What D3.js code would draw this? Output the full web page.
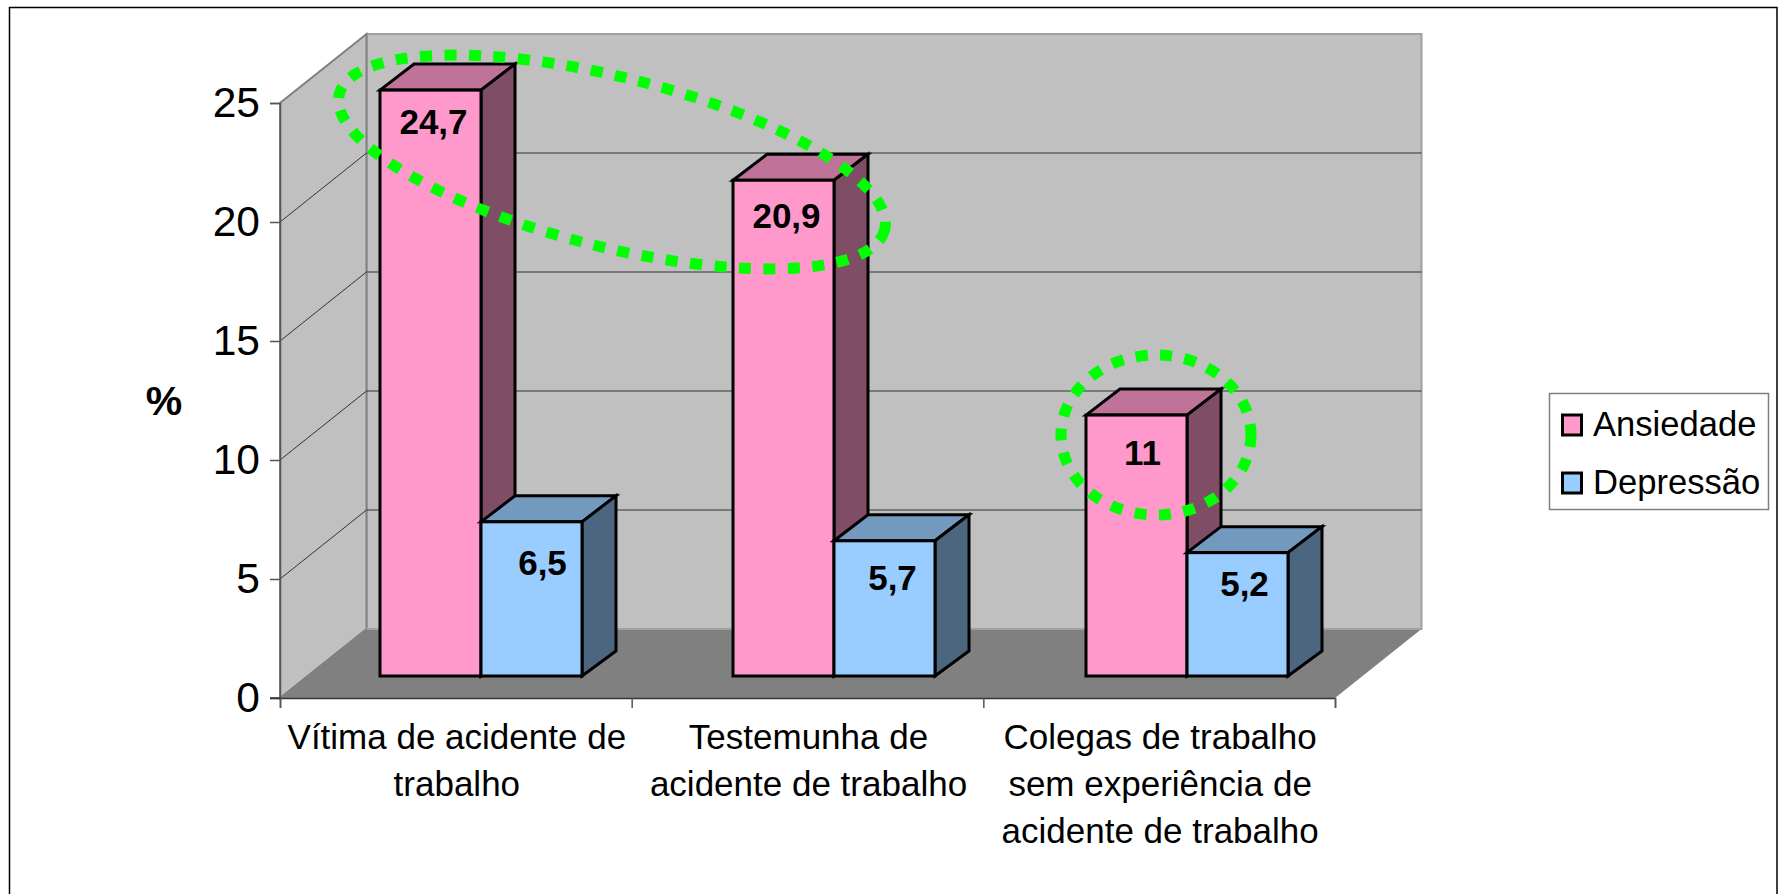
<!DOCTYPE html>
<html>
<head>
<meta charset="utf-8">
<script src="https://cdn.jsdelivr.net/npm/d3@7"></script>
<style>
  html, body { margin: 0; padding: 0; background: #fff; }
  svg { display: block; font-family: "Liberation Sans", Arial, sans-serif; }
</style>
</head>
<body>
<svg id="chart" width="1779" height="894"></svg>
<script>
const categories = [
  ["Vítima de acidente de", "trabalho"],
  ["Testemunha de", "acidente de trabalho"],
  ["Colegas de trabalho", "sem experiência de", "acidente de trabalho"]
];
const seriesNames = ["Ansiedade", "Depressão"];
const ansiedade = [24.7, 20.9, 11];
const depressao = [6.5, 5.7, 5.2];
const valueLabels = [["24,7", "20,9", "11"], ["6,5", "5,7", "5,2"]];
const yTicks = [0, 5, 10, 15, 20, 25];

const front = ["#FF99CC", "#99CCFF"];
const topCol = ["#BF7399", "#7399BF"];
const sideCol = ["#804D66", "#4D6680"];

const svg = d3.select("#chart");

// page frame
svg.append("path").attr("d", "M9.5,894V7.5H1777V894")
  .attr("fill", "none").attr("stroke", "#000").attr("stroke-width", 1.5);

const catIdx = d3.range(categories.length);
const x = d3.scaleBand().domain(catIdx).range([280, 1335]);
const y = d3.scaleLinear().domain([0, 25]).range([698, 103]);
// bars stand a bit behind the front edge of the floor
const yBar = d3.scaleLinear().domain([0, 25]).range([676, 83]);
const xGroup = d3.scalePoint().domain(catIdx).range([380, 1086]);
const xBar = d3.scaleBand().domain([0, 1]).range([0, 202]);
const shiftX = 86.5, shiftY = 69;

const x0 = x.range()[0], x1 = x.range()[1];

// walls and floor
const wallLine = d3.line();
svg.append("path")
  .attr("d", wallLine([[x0 + shiftX, y(25) - shiftY], [x1 + shiftX, y(25) - shiftY], [x1 + shiftX, y(0) - shiftY], [x0 + shiftX, y(0) - shiftY]]) + "Z")
  .attr("fill", "#C0C0C0").attr("stroke", "#A0A0A0").attr("stroke-width", 2);
svg.append("path")
  .attr("d", wallLine([[x0, y(0)], [x0, y(25)], [x0 + shiftX, y(25) - shiftY], [x0 + shiftX, y(0) - shiftY]]) + "Z")
  .attr("fill", "#C0C0C0").attr("stroke", "#808080").attr("stroke-width", 2);

// gridlines
const gridVals = yTicks.filter(d => d > 0 && d < 25);
svg.selectAll(".grid").data(gridVals).enter().append("path")
  .attr("class", "grid")
  .attr("d", d => wallLine([[x0, y(d)], [x0 + shiftX, y(d) - shiftY], [x1 + shiftX, y(d) - shiftY]]))
  .attr("fill", "none").attr("stroke", "#333").attr("stroke-width", 1);

svg.append("path")
  .attr("d", wallLine([[x0, y(0)], [x0 + shiftX, y(0) - shiftY], [x1 + shiftX, y(0) - shiftY], [x1, y(0)]]) + "Z")
  .attr("fill", "#808080");
svg.append("path")
  .attr("d", wallLine([[x0 + shiftX, y(0) - shiftY], [x1 + shiftX, y(0) - shiftY]]))
  .attr("stroke", "#A0A0A0").attr("stroke-width", 2);

// axes
const yAxis = svg.append("g").attr("transform", `translate(${x0},0)`)
  .call(d3.axisLeft(y).tickValues(yTicks).tickSize(10).tickPadding(10));
yAxis.selectAll("text").attr("font-size", 42.5).attr("font-family", "Liberation Sans").attr("fill", "#000");
yAxis.selectAll("line,path").attr("stroke", "#555").attr("stroke-width", 1.5);

const xAxis = svg.append("g").attr("transform", `translate(0,${y(0)})`)
  .call(d3.axisBottom(d3.scaleLinear().domain([0, categories.length]).range([x0, x1])).tickValues([0, 1, 2, 3]).tickSize(10).tickFormat(""));
xAxis.selectAll("line").attr("stroke", "#555").attr("stroke-width", 1.5);
xAxis.select("path").attr("stroke", "#333").attr("stroke-width", 1.5);
svg.append("line").attr("x1", x0 - 10).attr("x2", x0).attr("y1", y(0)).attr("y2", y(0))
  .attr("stroke", "#333").attr("stroke-width", 1.5);

// category labels
categories.forEach((lines, i) => {
  svg.append("text")
    .attr("text-anchor", "middle")
    .attr("font-size", 35)
    .attr("fill", "#000")
    .selectAll("tspan").data(lines).enter().append("tspan")
    .attr("x", x(i) + x.bandwidth() / 2 + 1)
    .attr("y", (d, j) => 749 + j * 47)
    .text(d => d);
});

svg.append("text").attr("x", 164).attr("y", 415)
  .attr("text-anchor", "middle").attr("font-size", 41).attr("font-weight", "bold").text("%");

// bars
const depthX = 34, depthTop = 26, depthBottom = 25;
// the value labels do not sit at a fixed spot on the bars in the original
const labelDx = [[3, 3, 6], [11, 8, 7]];
const labelDy = [[44, 48, 50], [53, 49, 43]];
const seriesVals = [ansiedade, depressao];
const barData = catIdx.flatMap(c => seriesVals.map((vals, s) => ({ c, s, v: vals[c], label: valueLabels[s][c] })));

const bars = svg.selectAll(".bar").data(barData).enter().append("g").attr("class", "bar");
bars.each(function (d) {
  const g = d3.select(this);
  const l = xGroup(d.c) + xBar(d.s), r = l + xBar.bandwidth();
  const t = yBar(d.v), b = yBar(0);
  const style = sel => sel.attr("stroke", "#000").attr("stroke-width", 3).attr("stroke-linejoin", "miter");
  g.append("path").attr("d", wallLine([[l, t], [l + depthX, t - depthTop], [r + depthX, t - depthTop], [r, t]]) + "Z")
    .attr("fill", topCol[d.s]).call(style);
  g.append("path").attr("d", wallLine([[r, t], [r + depthX, t - depthTop], [r + depthX, b - depthBottom], [r, b]]) + "Z")
    .attr("fill", sideCol[d.s]).call(style);
  g.append("rect").attr("x", l).attr("y", t).attr("width", r - l).attr("height", b - t)
    .attr("fill", front[d.s]).call(style);
  g.append("text")
    .attr("x", (l + r) / 2 + labelDx[d.s][d.c])
    .attr("y", t + labelDy[d.s][d.c])
    .attr("text-anchor", "middle")
    .attr("font-size", 35).attr("font-weight", "bold")
    .text(d.label);
});

// green highlight rings
svg.append("ellipse").attr("cx", 0).attr("cy", 0).attr("rx", 281).attr("ry", 85)
  .attr("transform", "translate(612,162) rotate(14)")
  .attr("fill", "none").attr("stroke", "#00FF00").attr("stroke-width", 11).attr("stroke-dasharray", "12 12.5");
svg.append("ellipse").attr("cx", 1156).attr("cy", 435).attr("rx", 95).attr("ry", 80)
  .attr("fill", "none").attr("stroke", "#00FF00").attr("stroke-width", 11).attr("stroke-dasharray", "12 12.5");

// legend
const legend = svg.append("g");
legend.append("rect").attr("x", 1549.5).attr("y", 393.5).attr("width", 219).attr("height", 116)
  .attr("fill", "#fff").attr("stroke", "#808080").attr("stroke-width", 1.5);
const legY = d3.scalePoint().domain(seriesNames).range([425, 483]);
seriesNames.forEach((name, i) => {
  legend.append("rect").attr("x", 1562.5).attr("y", legY(name) - 10).attr("width", 19).attr("height", 20)
    .attr("fill", front[i]).attr("stroke", "#000").attr("stroke-width", 3);
  legend.append("text").attr("x", 1593).attr("y", legY(name) + 11)
    .attr("font-size", 34.6).attr("fill", "#000").text(name);
});
</script>
</body>
</html>
